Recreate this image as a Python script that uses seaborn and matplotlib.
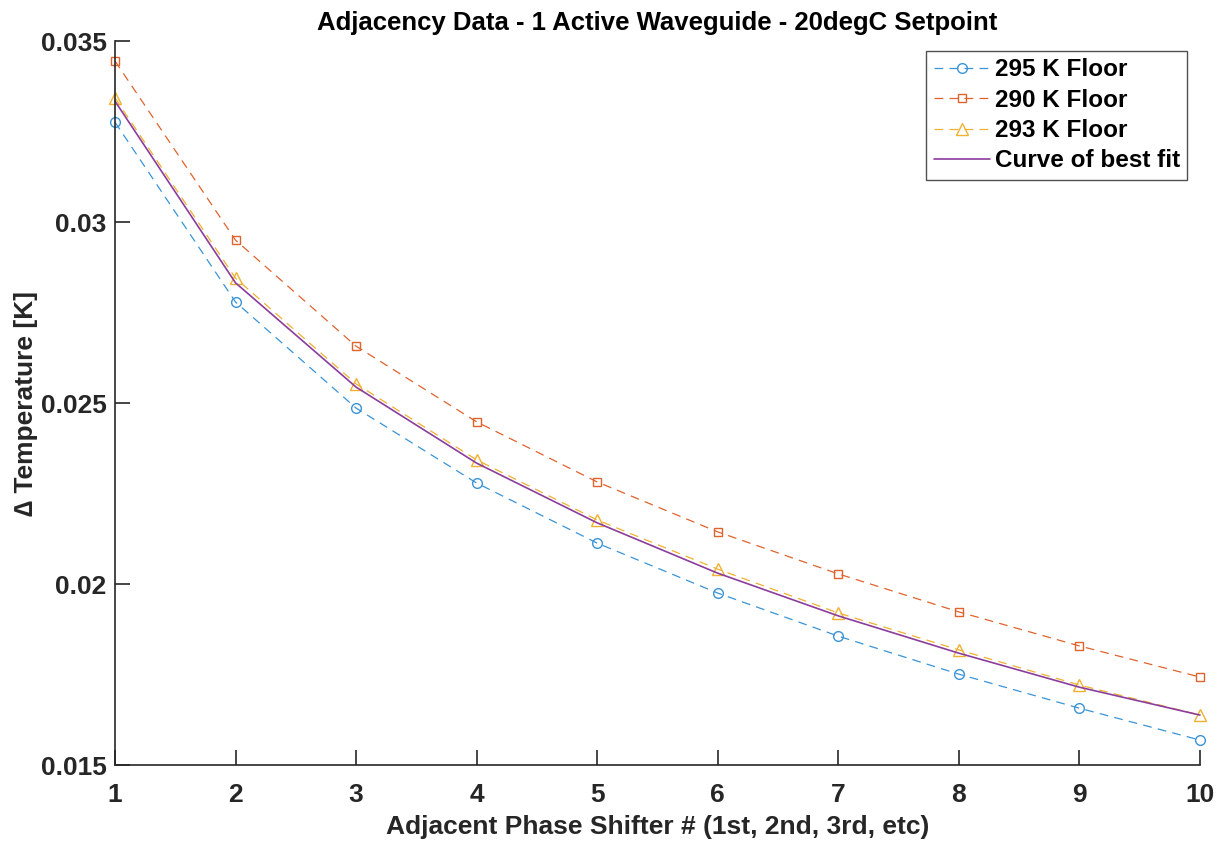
import numpy as np
import pandas as pd
import matplotlib
matplotlib.use('Agg')
import matplotlib.pyplot as plt
import seaborn as sns

# Du lieu doc tu hinh goc
shifter = [1, 2, 3, 4, 5, 6, 7, 8, 9, 10]
floor_295 = [0.03276, 0.02779, 0.02486, 0.02279, 0.02113, 0.01975, 0.01856, 0.01751, 0.01657, 0.01569]
floor_290 = [0.03445, 0.02950, 0.02657, 0.02448, 0.02282, 0.02144, 0.02028, 0.01923, 0.01829, 0.01743]
floor_293 = [0.03343, 0.02845, 0.02553, 0.02343, 0.02177, 0.02041, 0.01920, 0.01818, 0.01721, 0.01638]
best_fit = [0.03334, 0.02832, 0.02544, 0.02334, 0.02169, 0.02030, 0.01912, 0.01809, 0.01715, 0.01638]

series_names = ['295 K Floor', '290 K Floor', '293 K Floor']
colors = ['#3A94D6', '#E0622D', '#F0B030']
markers = ['o', 's', '^']
marker_sizes = [7, 6, 8]

sns.set_theme(style='white')
plt.rcParams['font.family'] = ['Liberation Sans', 'DejaVu Sans']
plt.rcParams['font.weight'] = 'bold'

fig = plt.figure(figsize=(12.19, 8.42), dpi=100)
ax = fig.add_axes([0.0943, 0.0914, 0.8901, 0.8599])

for name, vals, c, m, ms in zip(series_names, [floor_295, floor_290, floor_293], colors, markers, marker_sizes):
    df = pd.DataFrame({'x': shifter, 'y': vals})
    sns.lineplot(data=df, x='x', y='y', ax=ax, color=c, linestyle=(0, (7, 5)), linewidth=0.9,
                 marker=m, markersize=ms, markerfacecolor='none', markeredgecolor=c,
                 markeredgewidth=1.0, label=name, clip_on=False)

fit_df = pd.DataFrame({'x': shifter, 'y': best_fit})
sns.lineplot(data=fit_df, x='x', y='y', ax=ax, color='#8B3D9C', linewidth=1.2,
             label='Curve of best fit', clip_on=False)

ax.set_xlim(1, 10)
ax.set_ylim(0.015, 0.035)
ax.set_xticks(range(1, 11))
ax.set_yticks([0.015, 0.02, 0.025, 0.03, 0.035])
ax.set_yticklabels(['0.015', '0.02', '0.025', '0.03', '0.035'])
ax.tick_params(direction='in', length=11, width=1.2, colors='#262626', labelsize=19,
               left=True, bottom=True)
ax.tick_params(axis='x', pad=13)
ax.tick_params(axis='y', pad=6)
for lbl in ax.get_xticklabels() + ax.get_yticklabels():
    lbl.set_fontweight('bold')
sns.despine(ax=ax)
for s in ['left', 'bottom']:
    ax.spines[s].set_color('#262626')
    ax.spines[s].set_linewidth(1.2)

ax.set_title('Adjacency Data - 1 Active Waveguide - 20degC Setpoint', fontsize=18.5,
             fontweight='bold', color='black', pad=8)
ax.set_xlabel('Adjacent Phase Shifter # (1st, 2nd, 3rd, etc)', fontsize=19, fontweight='bold',
              color='#262626', labelpad=6)
ax.set_ylabel('\u2206 Temperature [K]', fontsize=19, fontweight='bold', color='#262626', labelpad=2)

leg = ax.legend(loc='upper right', fontsize=17.5, frameon=True, fancybox=False, handlelength=2.3,
                handletextpad=0.2, borderpad=0.3, labelspacing=0.3, borderaxespad=0,
                bbox_to_anchor=(0.988, 0.986))
leg.get_frame().set_edgecolor('#262626')
leg.get_frame().set_linewidth(1.0)
for t in leg.get_texts():
    t.set_fontweight('bold')
    t.set_color('black')

plt.savefig('out.png', dpi=100)
